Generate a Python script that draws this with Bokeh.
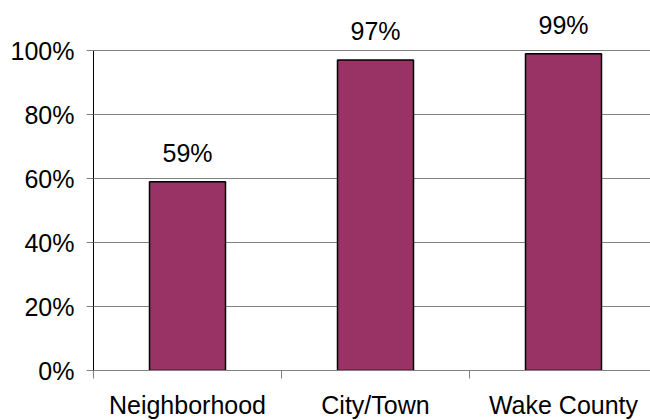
from bokeh.plotting import figure
from bokeh.models import Range1d, FixedTicker, ColumnDataSource
from bokeh.core.properties import value
from bokeh.embed import file_html
from bokeh.resources import INLINE

categories = ["Neighborhood", "City/Town", "Wake County"]
values = [59, 97, 99]
y_ticks = [0, 20, 40, 60, 80, 100]
y_tick_labels = ["0%", "20%", "40%", "60%", "80%", "100%"]

FONT = "Liberation Sans"
FS = "25px"

xpos = [i + 0.5 for i in range(len(categories))]
src = ColumnDataSource(dict(
    x=xpos,
    top=values,
    label=[f"{v}%" for v in values],
))

p = figure(
    frame_width=557, frame_height=370,
    min_border_left=93, min_border_right=0, min_border_top=0, min_border_bottom=50,
    x_range=Range1d(0, 557 / 188), y_range=Range1d(0, 100 * 370 / 320),
    output_backend="svg", toolbar_location=None,
)
p.outline_line_color = None
p.background_fill_color = "white"
p.border_fill_color = "white"

p.vbar(x="x", top="top", width=76 / 188, bottom=0, source=src,
       fill_color="#993366", line_color="black", line_width=1.5)

p.text(x="x", y="top", text="label", source=src, y_offset=-29,
       text_align="center", text_baseline="alphabetic",
       text_font=value(FONT), text_font_size=FS, text_color="black")

# y axis
ya = p.yaxis[0]
ya.ticker = FixedTicker(ticks=y_ticks)
ya.major_label_overrides = {t: l for t, l in zip(y_ticks, y_tick_labels)}
ya.bounds = (0, 100)
ya.axis_line_color = "black"
ya.axis_line_width = 1
ya.major_tick_in = 0
ya.major_tick_out = 7
ya.major_tick_line_color = "#808080"
ya.minor_tick_line_color = None
ya.major_label_standoff = 12
ya.major_label_text_font = FONT
ya.major_label_text_font_size = FS
ya.major_label_text_color = "black"

# x axis
xa = p.xaxis[0]
xa.ticker = FixedTicker(ticks=xpos, minor_ticks=[0, 1, 2, 3])
xa.major_label_overrides = {x: c for x, c in zip(xpos, categories)}
xa.axis_line_color = "#808080"
xa.axis_line_width = 1
xa.major_tick_line_color = None
xa.major_tick_in = 0
xa.major_tick_out = 0
xa.minor_tick_in = 0
xa.minor_tick_out = 8
xa.minor_tick_line_color = "#808080"
xa.major_label_standoff = 12
xa.major_label_text_font = FONT
xa.major_label_text_font_size = FS
xa.major_label_text_color = "black"

p.xgrid.grid_line_color = None
p.ygrid.grid_line_color = "#808080"
p.ygrid.grid_line_width = 1
p.ygrid.ticker = FixedTicker(ticks=y_ticks)

open("out.html", "w").write(file_html(p, INLINE))
